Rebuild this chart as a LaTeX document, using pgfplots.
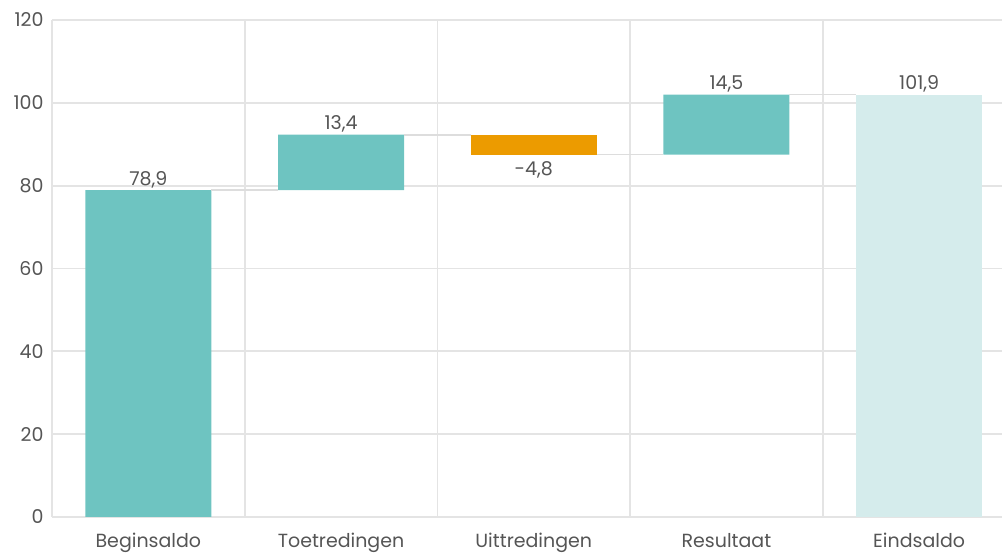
\documentclass[border=0pt]{standalone}
\usepackage{fontspec}
\setmainfont{Poppins}
\usepackage{pgfplots}
\pgfplotsset{compat=1.18}
\definecolor{teal1}{HTML}{6EC4C1}
\definecolor{orange1}{HTML}{EC9B00}
\definecolor{light1}{HTML}{D5ECEC}
\definecolor{gridc}{HTML}{E4E4E4}
\definecolor{txt}{HTML}{555555}
\definecolor{conn}{HTML}{DDDDDD}
\pgfplotsset{common/.style={scale only axis, width=950pt, height=497pt,
  xmin=-0.5, xmax=4.43, ymin=0, ymax=120, at={(0,0)}, anchor=south west}}
\begin{document}
\begin{tikzpicture}
\begin{axis}[common, ybar stacked, bar width=126pt,
  axis x line*=bottom, axis y line*=left,
  axis line style={gridc, line width=2pt, -},
  xtick={0,1,2,3,4},
  xticklabels={Beginsaldo,Toetredingen,Uittredingen,Resultaat,Eindsaldo},
  minor xtick={0.5,1.5,2.5,3.5}, xminorgrids=true, xmajorgrids=false,
  ymajorgrids=true, ytick={0,20,...,120},
  grid style={gridc, line width=1.8pt},
  minor grid style={gridc, line width=1.8pt},
  major tick length=0pt, minor tick length=0pt,
  tick label style={font=\fontsize{19}{19}\selectfont, text=txt},
  xticklabel style={yshift=-13pt},
  yticklabel style={xshift=-5pt},
  /pgf/number format/assume math mode=true,
  ]
\addplot[draw=none, fill=none] coordinates {(0,0) (1,78.9) (2,87.5) (3,87.5) (4,0)};
\addplot[draw=none, fill=teal1] coordinates {(0,78.9) (1,13.4) (2,0) (3,14.5) (4,0)};
\addplot[draw=none, fill=orange1] coordinates {(0,0) (1,0) (2,4.8) (3,0) (4,0)};
\addplot[draw=none, fill=light1] coordinates {(0,0) (1,0) (2,0) (3,0) (4,101.9)};
\end{axis}
\begin{axis}[common, axis lines=none, clip=false]
\addplot[conn, line width=1.6pt] coordinates {(0.327,78.9) (0.673,78.9)};
\addplot[conn, line width=1.6pt] coordinates {(1.327,92.3) (1.673,92.3)};
\addplot[conn, line width=1.6pt] coordinates {(2.327,87.5) (2.673,87.5)};
\addplot[conn, line width=1.6pt] coordinates {(3.327,102.0) (3.673,102.0)};
\begin{scope}[every node/.style={font=\fontsize{19}{19}\selectfont, text=txt, anchor=base}]
\node[yshift=5pt] at (axis cs:0,78.9) {78,9};
\node[yshift=5pt] at (axis cs:1,92.3) {13,4};
\node[yshift=-21pt] at (axis cs:2,87.5) {-4,8};
\node[yshift=5pt] at (axis cs:3,102.0) {14,5};
\node[yshift=5pt] at (axis cs:4,101.9) {101,9};
\end{scope}
\end{axis}
\pgfresetboundingbox
\path[use as bounding box] (-52pt,-39pt) rectangle (950pt,517pt);
\end{tikzpicture}
\end{document}
